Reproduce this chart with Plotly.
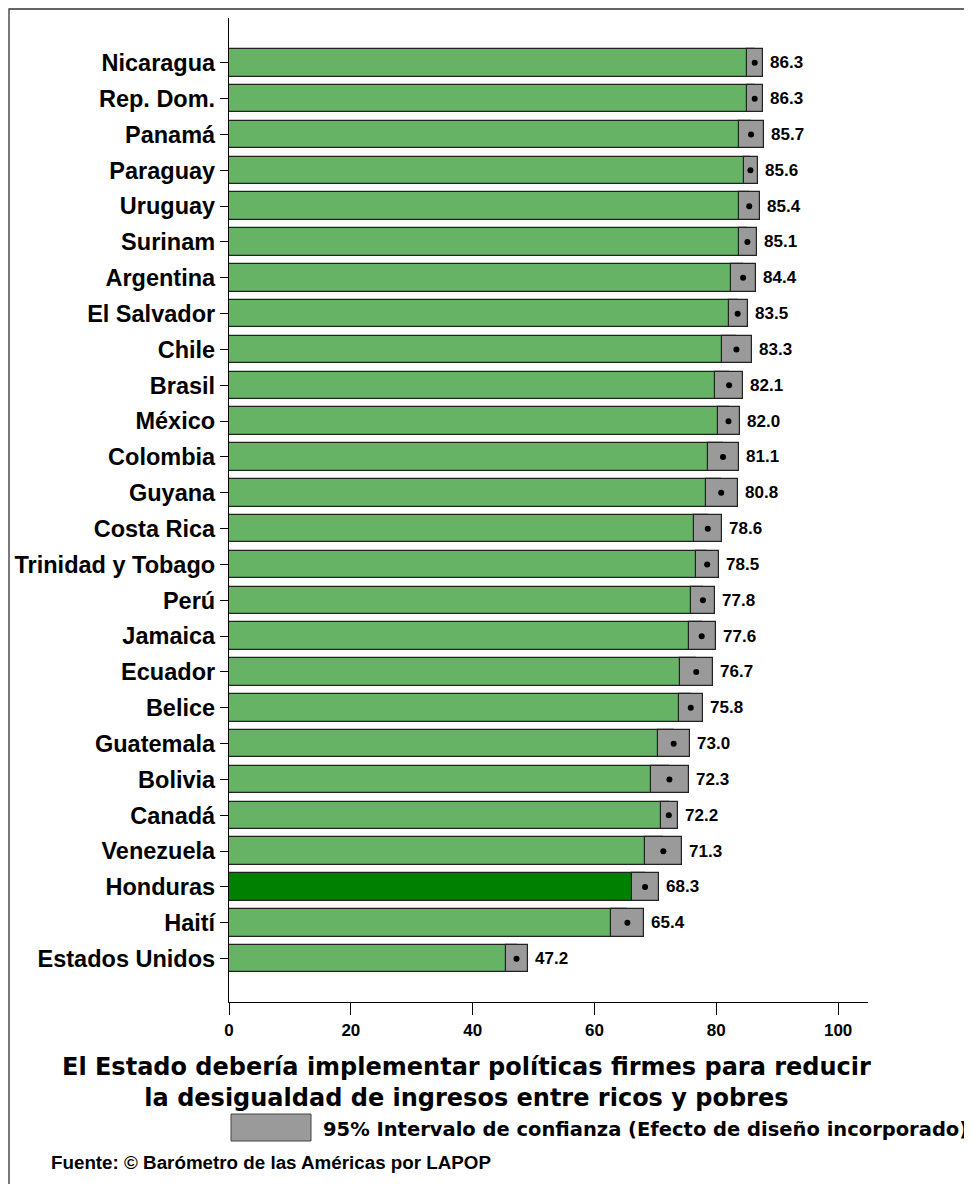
import plotly.graph_objects as go

countries = ["Nicaragua", "Rep. Dom.", "Panamá", "Paraguay", "Uruguay", "Surinam",
             "Argentina", "El Salvador", "Chile", "Brasil", "México", "Colombia",
             "Guyana", "Costa Rica", "Trinidad y Tobago", "Perú", "Jamaica", "Ecuador",
             "Belice", "Guatemala", "Bolivia", "Canadá", "Venezuela", "Honduras",
             "Haití", "Estados Unidos"]
values = [86.3, 86.3, 85.7, 85.6, 85.4, 85.1, 84.4, 83.5, 83.3, 82.1, 82.0, 81.1,
          80.8, 78.6, 78.5, 77.8, 77.6, 76.7, 75.8, 73.0, 72.3, 72.2, 71.3, 68.3,
          65.4, 47.2]
ci_low = [85.1, 85.0, 83.7, 84.6, 83.7, 83.7, 82.4, 82.0, 80.9, 79.8, 80.2, 78.7,
          78.3, 76.4, 76.7, 75.8, 75.5, 74.1, 73.9, 70.4, 69.3, 70.9, 68.3, 66.1,
          62.7, 45.4]
ci_high = [87.7, 87.6, 87.9, 86.8, 87.1, 86.6, 86.5, 85.2, 85.9, 84.3, 83.9, 83.7,
           83.6, 81.0, 80.4, 79.8, 80.0, 79.4, 77.8, 75.6, 75.5, 73.7, 74.4, 70.6,
           68.2, 49.1]
highlight = "Honduras"
x_ticks = [0, 20, 40, 60, 80, 100]

title_lines = ["El Estado debería implementar políticas firmes para reducir",
               "la desigualdad de ingresos entre ricos y pobres"]
legend_text = "95% Intervalo de confianza (Efecto de diseño incorporado)"
source_text = "Fuente: © Barómetro de las Américas por LAPOP"

FONT = "Liberation Sans, Arial, Helvetica, sans-serif"
FONT_WIDE = "DejaVu Sans, Verdana, sans-serif"

OFF = 8  # page body margin
W, H = 972 - OFF, 1184 - OFF
# plot area in page pixels
P_L, P_R, P_T, P_B = 229, 868, 18, 1002
PL, PR, PT, PB = P_L - OFF, P_R - OFF, P_T - OFF, P_B - OFF


def px(x):
    return (x - OFF - PL) / (PR - PL)


def py(y):
    return (PB - (y - OFF)) / (PB - PT)


ypos = list(range(len(countries)))
green = "#66b366"
dark_green = "#008000"
colors = [dark_green if c == highlight else green for c in countries]

fig = go.Figure()
fig.add_trace(go.Bar(
    y=ypos, x=values, orientation="h", width=0.77,
    marker=dict(color=colors, line=dict(color="#222222", width=1.2)),
    hoverinfo="skip", showlegend=False))
fig.add_trace(go.Bar(
    y=ypos, x=[h - l for l, h in zip(ci_low, ci_high)], base=ci_low,
    orientation="h", width=0.77,
    marker=dict(color="#9a9a9a", line=dict(color="#222222", width=1.2)),
    hoverinfo="skip", showlegend=False))
fig.add_trace(go.Scatter(
    y=ypos, x=values, mode="markers",
    marker=dict(color="black", size=6), hoverinfo="skip", showlegend=False))

annotations = []
for i, (v, h) in enumerate(zip(values, ci_high)):
    annotations.append(dict(
        x=h, y=i, xref="x", yref="y", text=f"{v:.1f}", showarrow=False,
        xanchor="left", yanchor="middle", xshift=5,
        font=dict(family=FONT, size=17, color="black", weight="bold")))

annotations.append(dict(
    x=px(466), y=py(1082), xref="paper", yref="paper",
    text="<br>".join(title_lines), align="center",
    showarrow=False, xanchor="center", yanchor="middle",
    font=dict(family=FONT_WIDE, size=24, color="black", weight="bold")))
annotations.append(dict(
    x=px(321), y=py(1129), xref="paper", yref="paper", text=legend_text,
    showarrow=False, xanchor="left", yanchor="middle",
    font=dict(family=FONT_WIDE, size=19.5, color="black", weight="bold")))
annotations.append(dict(
    x=px(49), y=py(1162), xref="paper", yref="paper", text=source_text,
    showarrow=False, xanchor="left", yanchor="middle",
    font=dict(family=FONT, size=18.8, color="black", weight="bold")))

shapes = [
    dict(type="rect", xref="paper", yref="paper",
         x0=px(231), x1=px(311), y0=py(1141), y1=py(1114),
         fillcolor="#9a9a9a", line=dict(color="#444444", width=1)),
    dict(type="rect", xref="paper", yref="paper",
         x0=px(9), x1=px(1000), y0=py(1250), y1=py(9),
         fillcolor="rgba(0,0,0,0)", line=dict(color="#333333", width=1.3)),
]

fig.update_layout(
    width=W, height=H,
    margin=dict(l=PL, r=W - PR, t=PT, b=H - PB, autoexpand=False),
    paper_bgcolor="white", plot_bgcolor="white",
    barmode="overlay", bargap=0,
    annotations=annotations, shapes=shapes,
    font=dict(family=FONT, color="black"),
)
fig.update_xaxes(
    range=[0, 104.9], tickvals=x_ticks, ticktext=[str(t) for t in x_ticks],
    showline=True, linecolor="black", linewidth=1.3, ticks="outside",
    ticklen=12, tickcolor="black", tickwidth=1.2, showgrid=False, zeroline=False,
    tickfont=dict(family=FONT, size=17, color="black", weight="bold"),
    automargin=False, fixedrange=True)
fig.update_yaxes(
    range=[len(countries) - 1 + 1.21, -1.25], tickvals=ypos, ticktext=countries,
    showline=True, linecolor="black", linewidth=1.3, ticks="outside",
    ticklen=8, tickcolor="black", tickwidth=1.2, showgrid=False, zeroline=False,
    tickfont=dict(family=FONT, size=23.5, color="black", weight="bold"),
    automargin=False, fixedrange=True)

fig.write_html("out.html")
